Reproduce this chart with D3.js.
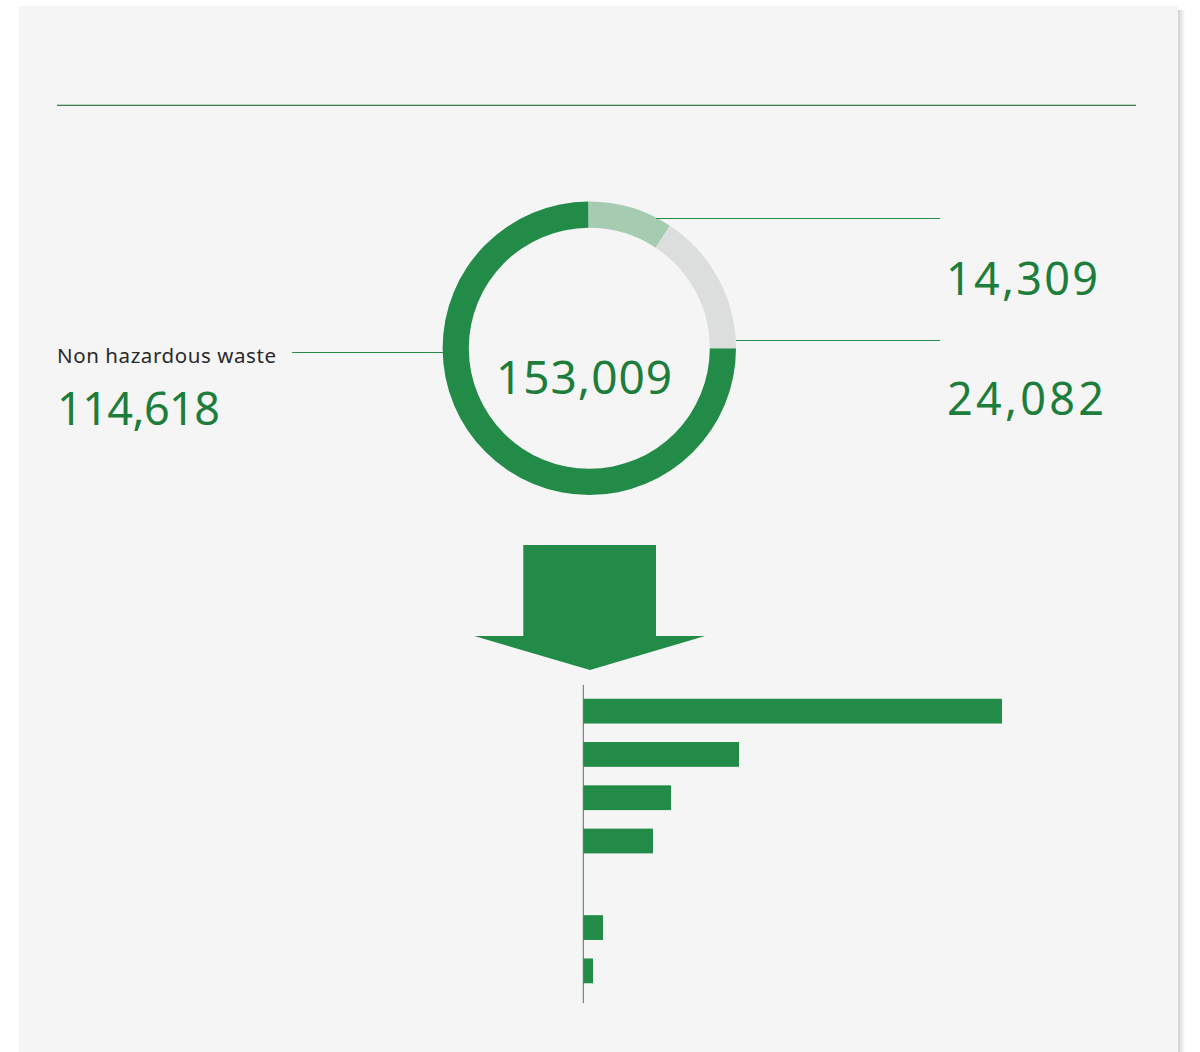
<!DOCTYPE html>
<html><head><meta charset="utf-8">
<script src="https://cdn.jsdelivr.net/npm/d3@7"></script>
<style>
html,body{margin:0;padding:0;background:#fff;}
svg{display:block;}
</style></head>
<body>
<svg id="c" width="1200" height="1052"></svg>
<script>
// ---- data ----
const donutLabels = ["Non hazardous waste", "Hazardous (A)", "Hazardous (B)"];
const donutValues = [114618, 14309, 24082];
const donutColors = ["#218b47", "#a5cbb0", "#dcdedd"];
const donutTotal = 153009;
const barCategories = ["c1", "c2", "c3", "c4", "c5", "c6", "c7"];
const barValues = [84160, 31300, 17630, 14010, 0, 3960, 1950];

const svg = d3.select("#c");
const green = "#218b47";
const textGreen = "#1d7d3b";
const font = "'Noto Sans', 'Open Sans', sans-serif";
const fmt = d3.format(",");

// panel + shadow
const defs = svg.append("defs");
const grad = defs.append("linearGradient").attr("id","sh").attr("x1",0).attr("x2",1);
grad.append("stop").attr("offset",0).attr("stop-color","#d0d0d0");
grad.append("stop").attr("offset",1).attr("stop-color","#ffffff");
svg.append("rect").attr("x",1178).attr("y",10).attr("width",7).attr("height",1042).attr("fill","url(#sh)");
svg.append("rect").attr("x",19).attr("y",6).attr("width",1159).attr("height",1046).attr("fill","#f5f5f5");

// top rule
svg.append("line").attr("x1",57).attr("x2",1136).attr("y1",104.5).attr("y2",104.5).attr("stroke","#b9d3c1").attr("stroke-width",1);
svg.append("line").attr("x1",57).attr("x2",1136).attr("y1",105.5).attr("y2",105.5).attr("stroke","#3e7f55").attr("stroke-width",1);

// donut
const cx = 589.3, cy = 348.3;
const pie = d3.pie().sort(null).value(d => d).startAngle(Math.PI/2).endAngle(Math.PI/2 + 2*Math.PI);
const arc = d3.arc().innerRadius(120.5).outerRadius(146.7);
const g = svg.append("g").attr("transform",`translate(${cx},${cy})`);
g.selectAll("path").data(pie(donutValues)).join("path")
  .attr("d", arc).attr("fill",(d,i)=>donutColors[i]);

function numText(x, y, size, str, len){
  return svg.append("text").attr("x",x).attr("y",y)
    .attr("font-family",font).attr("font-size",size).attr("font-weight",400)
    .attr("fill",textGreen).attr("textLength",len).attr("lengthAdjust","spacing").text(str);
}
numText(496, 394, 46, fmt(donutTotal), 176);

// leader lines
const lc = "#2a8a4a";
svg.append("line").attr("x1",292).attr("x2",443).attr("y1",352.5).attr("y2",352.5).attr("stroke",lc);
svg.append("line").attr("x1",656).attr("x2",940).attr("y1",218.5).attr("y2",218.5).attr("stroke",lc);
svg.append("line").attr("x1",736).attr("x2",940).attr("y1",340.5).attr("y2",340.5).attr("stroke",lc);

// labels
svg.append("text").attr("x",57).attr("y",363).attr("font-family",font).attr("font-size",20.5).attr("font-weight",400)
  .attr("fill","#2a2a2a").attr("textLength",219).attr("lengthAdjust","spacing").text(donutLabels[0]);
numText(57, 425, 45, fmt(donutValues[0]), 163);
numText(946, 295, 45, fmt(donutValues[1]), 152);
numText(947, 415, 45, fmt(donutValues[2]), 157);

// arrow
svg.append("path").attr("fill",green)
  .attr("d","M523.3,545 L656,545 L656,636 L705,636 L590,670 L474.3,636 L523.3,636 Z");

// bars
const x = d3.scaleLinear().domain([0, barValues[0]]).range([583.3, 1002]);
const y = d3.scaleBand().domain(barCategories).range([689.5, 992.5]).paddingInner(0.428).paddingOuter(0.214);
svg.append("g").selectAll("rect").data(barValues).join("rect")
  .attr("x", x(0)).attr("y",(d,i)=>y(barCategories[i]))
  .attr("width", d => x(d)-x(0)).attr("height", y.bandwidth()).attr("fill", green);
svg.append("line").attr("x1",583.3).attr("x2",583.3).attr("y1",685).attr("y2",1003).attr("stroke","#3e7f55").attr("stroke-width",1);
</script>
</body></html>
